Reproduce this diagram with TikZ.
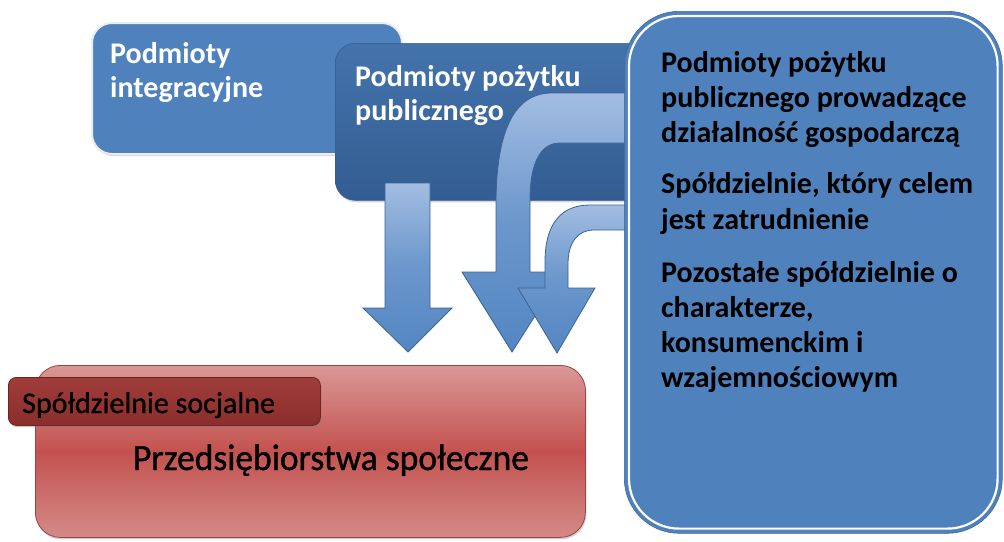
\documentclass[tikz,border=0pt]{standalone}
\usepackage{fontspec}
\usepackage{graphicx}
\setmainfont{Carlito}
\newfontfamily\heavyreg[FakeBold=1.0]{Carlito}
\usetikzlibrary{shadows,calc}
\definecolor{bOne}{HTML}{4F81BD}
\definecolor{bTwoTop}{HTML}{4473AC}
\definecolor{bTwoBot}{HTML}{335D92}
\definecolor{bRight}{HTML}{4F81BD}
\definecolor{arrLight}{HTML}{A2BDE2}
\definecolor{arrMid}{HTML}{5386C2}
\definecolor{arrLine}{HTML}{3A6396}
\definecolor{redTop}{HTML}{DA9896}
\definecolor{redMid}{HTML}{C3524F}
\definecolor{redBot}{HTML}{D48A88}
\definecolor{tabTop}{HTML}{A03D3A}
\definecolor{tabBot}{HTML}{8A2E2C}
\definecolor{tabLine}{HTML}{6E2321}
\begin{document}
\begin{tikzpicture}[x=1pt,y=-1pt,
  wtxt/.style={anchor=base west, inner sep=0pt, text=white, font=\fontsize{30}{36}\selectfont\bfseries},
  ktxt/.style={anchor=base west, inner sep=0pt, text=black, font=\fontsize{30}{36}\selectfont\bfseries},
  boxone/.style={anchor=north west, inner sep=0pt, rounded corners=20pt, fill=bOne, draw=white!85!gray, line width=2pt,
     drop shadow={opacity=0.3, shadow xshift=1pt, shadow yshift=-2pt}},
  boxtwo/.style={anchor=north west, inner sep=0pt, rounded corners=20pt, top color=bTwoTop, bottom color=bTwoBot, draw=bTwoBot, line width=0.6pt,
     drop shadow={opacity=0.3, shadow xshift=1pt, shadow yshift=-2pt}},
  arrowshape/.style={top color=arrLight, bottom color=arrMid, middle color=arrMid!70!arrLight, draw=arrLine, line width=0.8pt},
  redbox/.style={anchor=north west, inner sep=0pt, rounded corners=25pt, top color=redTop, bottom color=redBot, middle color=redMid, draw=redMid!80!black, line width=0.8pt,
     drop shadow={opacity=0.35, shadow xshift=1pt, shadow yshift=-2pt}},
  tabbox/.style={anchor=north west, inner sep=0pt, rounded corners=8pt, top color=tabTop, bottom color=tabBot, draw=tabLine, line width=0.8pt,
     drop shadow={opacity=0.4, shadow xshift=1pt, shadow yshift=-2pt}}
]
\useasboundingbox (0,0) rectangle (1004,541);
\fill[white] (0,0) rectangle (1004,541);

% box 1
\node[boxone, minimum width=310pt, minimum height=131pt] (b1) at (91,22) {};
\node[wtxt] (t1a) at (110,63) {Podmioty};
\node[wtxt] (t1b) at (110,97) {integracyjne};

% box 2
\node[boxtwo, minimum width=330pt, minimum height=157pt] (b2) at (335,43) {};
\node[wtxt] (t2a) at (355,86) {Podmioty pożytku};
\node[wtxt] (t2b) at (355,120) {publicznego};

% straight arrow
\path[arrowshape] (385,183) -- (430,183) -- (430,308) -- (452,308) -- (408,352) -- (363,308) -- (385,308) -- cycle;

% big curved arrow
\path[arrowshape] (634,93) -- (552,93) .. controls (512,93) and (496,135) .. (496,205) -- (496,272) -- (462,272) -- (512,352) -- (563,272) -- (530,272) -- (530,200) .. controls (530,160) and (542,143) .. (560,143) -- (634,143) -- cycle;

% small curved arrow
\path[arrowshape] (634,205) -- (590,205) .. controls (560,205) and (545,225) .. (545,262) -- (545,288) -- (518,288) -- (557,353) -- (595,288) -- (568,288) -- (568,264) .. controls (568,242) and (578,230) .. (594,230) -- (634,230) -- cycle;

% right box
\node[anchor=north west, inner sep=0pt, minimum width=378pt, minimum height=522pt, rounded corners=55pt, fill=bRight, draw=bRight!80!black, line width=0.6pt] (rb) at (624,11) {};
\draw[white, line width=2.2pt, rounded corners=50pt] ($(rb.north west)+(5,5)$) rectangle ($(rb.south east)+(-5,-5)$);
\node[ktxt] (r1) at (661,72) {Podmioty pożytku};
\node[ktxt] (r2) at (661,107) {publicznego prowadzące};
\node[ktxt] (r3) at (661,142) {działalność gospodarczą};
\node[ktxt] (r4) at (661,193) {Spółdzielnie, który celem};
\node[ktxt] (r5) at (661,229) {jest zatrudnienie};
\node[ktxt] (r6) at (661,282) {Pozostałe spółdzielnie o};
\node[ktxt] (r7) at (661,317) {charakterze,};
\node[ktxt] (r8) at (661,352) {konsumenckim i};
\node[ktxt] (r9) at (661,387) {wzajemnościowym};

% red box
\node[redbox, minimum width=550pt, minimum height=172pt] (red) at (35,365) {};
\node[anchor=base, inner sep=0pt, font=\fontsize{37}{44}\selectfont\heavyreg] (tred) at (331,470) {\scalebox{0.96}[1]{Przedsiębiorstwa społeczne}};
\node[tabbox, minimum width=312pt, minimum height=48pt] (tab) at (8,377) {};
\node[anchor=base west, inner sep=0pt, font=\fontsize{30}{36}\selectfont\heavyreg] (ttab) at (22,413) {Spółdzielnie socjalne};
\end{tikzpicture}
\end{document}
